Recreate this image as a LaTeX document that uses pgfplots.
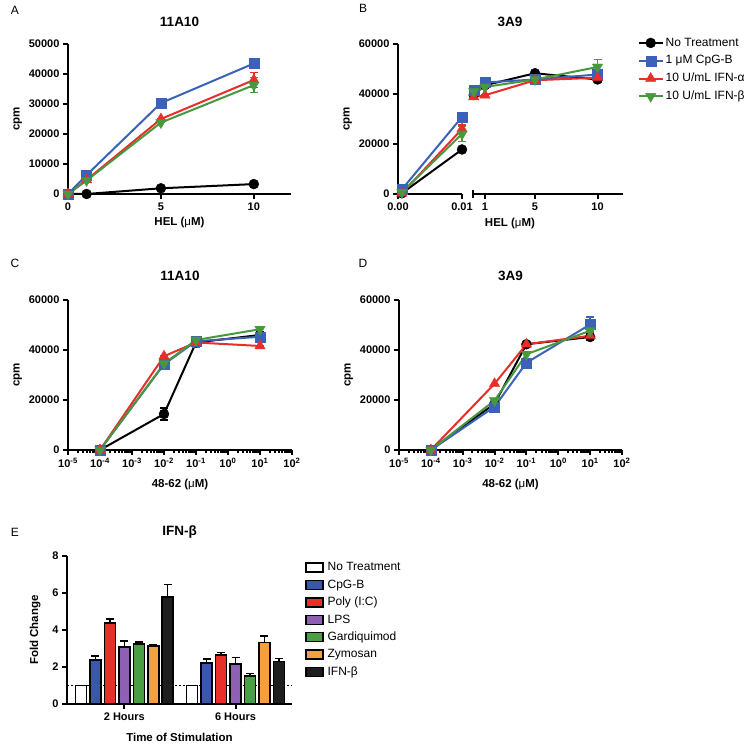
\documentclass[border=0pt]{standalone}
\usepackage{fontspec}
\setmainfont{Liberation Sans}
\usepackage{pgfplots}
\pgfplotsset{compat=1.18}

\definecolor{pblue}{RGB}{59,98,184}
\definecolor{pred}{RGB}{233,45,40}
\definecolor{pgreen}{RGB}{72,152,64}
\definecolor{ebl}{RGB}{57,88,170}
\definecolor{ered}{RGB}{232,48,40}
\definecolor{epur}{RGB}{142,96,180}
\definecolor{egrn}{RGB}{74,158,70}
\definecolor{eora}{RGB}{245,160,60}
\definecolor{eblk}{RGB}{30,30,30}

\newcommand\fTk{\fontsize{11}{13}\selectfont\bfseries}
\newcommand\fLb{\fontsize{11.5}{13}\selectfont\bfseries}
\newcommand\fTi{\fontsize{13.5}{15}\selectfont\bfseries}
\newcommand\fLg{\fontsize{12}{14}\selectfont}
\newcommand\mic{{\mdseries μ}}

\pgfplotsset{
  prism/.style={
    scale only axis, clip=false,
    axis x line=bottom, axis y line=left,
    axis line style={-, line width=2pt},
    every tick/.style={black, line width=2pt},
    tick align=outside, major tick length=5pt,
    tick label style={font=\fTk},
    label style={font=\fLb},
    title style={font=\fTi, at={(0.5,1)}, anchor=center},
    scaled ticks=false,
    /pgf/number format/1000 sep={},
    /pgf/number format/assume math mode=true,
    every axis plot/.append style={line width=2pt},
  },
  blk/.style={black, mark=*, mark size=5pt, mark options={solid, line width=0.4pt}},
  blu/.style={pblue, mark=square*, mark size=5pt, mark options={solid, line width=0.4pt}},
  rd/.style={pred, mark=triangle*, mark size=6pt, mark options={solid, line width=0.4pt}},
  gr/.style={pgreen, mark=triangle*, mark size=6pt, mark options={solid, rotate=180, line width=0.4pt}},
  lerr/.style={error bars/.cd, y dir=both, y explicit,
    error bar style={line width=1.5pt},
    error mark options={rotate=90, mark size=4pt, line width=1.5pt}},
  ebar/.style={error bars/.cd, y dir=plus, y explicit,
    error bar style={black, line width=1.5pt},
    error mark options={black, rotate=90, mark size=4pt, line width=1.5pt}},
}

\begin{document}
\begin{tikzpicture}
\path[use as bounding box] (0pt,0pt) rectangle (750pt,746pt);

% panel letters
\node[font=\fLg] at (15pt,736pt) {A};
\node[font=\fLg] at (363pt,738pt) {B};
\node[font=\fLg] at (15pt,483pt) {C};
\node[font=\fLg] at (363pt,483pt) {D};
\node[font=\fLg] at (15pt,214pt) {E};

% ---------- A ----------
\begin{axis}[prism, at={(68pt,552pt)}, anchor=south west,
  width=223pt, height=150pt,
  xmin=0, xmax=12, ymin=0, ymax=50000,
  xtick={0,5,10}, ytick={0,10000,20000,30000,40000,50000},
  title={11A10}, title style={yshift=16pt},
  xlabel={HEL (\mic M)}, ylabel={cpm}]
\addplot[blk] coordinates {(0,0) (1,0) (5,1900) (10,3300)};
\addplot[blu] coordinates {(0,0) (1,6300) (5,30300) (10,43500)};
\addplot[rd, lerr] coordinates {(0,0) +- (0,0) (1,4700) +- (0,0) (5,25000) +- (0,0) (10,38000) +- (0,2500)};
\addplot[gr, lerr] coordinates {(0,0) +- (0,0) (1,4500) +- (0,0) (5,23800) +- (0,0) (10,36300) +- (0,2500)};
\end{axis}

% ---------- B (left segment) ----------
\begin{axis}[prism, at={(398pt,552pt)}, anchor=south west,
  width=64pt, height=150pt,
  xmin=0, xmax=0.01, ymin=0, ymax=60000,
  xtick={0,0.01}, xticklabels={0.00,0.01},
  ytick={0,20000,40000,60000},
  ylabel={cpm}]
\addplot[blk] coordinates {(0.0006,300) (0.01,17800)};
\addplot[blu] coordinates {(0.0006,1800) (0.01,30800)};
\addplot[rd, lerr] coordinates {(0.0006,200) +- (0,0) (0.01,26000) +- (0,1500)};
\addplot[gr, lerr] coordinates {(0.0006,700) +- (0,0) (0.01,24000) +- (0,3000)};
\end{axis}

% ---------- B (right segment) ----------
\begin{axis}[prism, at={(472.5pt,552pt)}, anchor=south west,
  width=150pt, height=150pt, axis y line=none,
  xmin=0, xmax=12, ymin=0, ymax=60000,
  xtick={1,5,10},
  extra x ticks={0}, extra x tick labels={},
  extra x tick style={tick align=center, major tick length=8pt},
  title={3A9}, title style={at={(0.25,1)}, yshift=16pt},
  xlabel={HEL (\mic M)}, xlabel style={at={(ticklabel cs:0.25)}, yshift=8pt},
  legend style={at={(axis description cs:1.1,1.06)}, anchor=north west,
    draw=none, fill=none, font=\fLg, inner sep=0pt, row sep=2.3pt,
    cells={anchor=west},
    nodes={text height=9pt, text depth=2.5pt, inner sep=2pt}},
  legend image code/.code={\draw[mark repeat=2, mark phase=2, #1]
    plot coordinates {(0pt,0pt) (12pt,0pt) (24pt,0pt)};}]
\addplot[blk, lerr] coordinates {(0.1,39600) +- (0,0) (1,43500) +- (0,0) (5,48300) +- (0,0) (10,45800) +- (0,1000)};
\addplot[blu, lerr] coordinates {(0.1,41500) +- (0,0) (1,44600) +- (0,0) (5,45800) +- (0,0) (10,47800) +- (0,2000)};
\addplot[rd, lerr] coordinates {(0.1,38800) +- (0,0) (1,39500) +- (0,0) (5,45500) +- (0,0) (10,46500) +- (0,1500)};
\addplot[gr, lerr] coordinates {(0.1,41000) +- (0,0) (1,42800) +- (0,0) (5,45800) +- (0,0) (10,50800) +- (0,3000)};
\legend{No Treatment, 1 μM CpG-B, 10 U/mL IFN-α, 10 U/mL IFN-β}
\end{axis}

% ---------- C ----------
\begin{axis}[prism, at={(68pt,296pt)}, anchor=south west,
  width=224pt, height=150pt, xmode=log,
  xmin=1e-5, xmax=1e2, ymin=0, ymax=60000,
  xtick={1e-5,1e-4,1e-3,1e-2,1e-1,1,10,100},
  xticklabels={10\textsuperscript{-5},10\textsuperscript{-4},10\textsuperscript{-3},10\textsuperscript{-2},10\textsuperscript{-1},10\textsuperscript{0},10\textsuperscript{1},10\textsuperscript{2}},
  minor xtick={},
  ytick={0,20000,40000,60000},
  title={11A10}, title style={yshift=18pt},
  xlabel={48-62 (\mic M)}, xlabel style={yshift=-4pt}, ylabel={cpm}]
\addplot[blk, lerr] coordinates {(1e-4,0) +- (0,0) (1e-2,14400) +- (0,2400) (1e-1,43000) +- (0,2000) (10,46000) +- (0,0)};
\addplot[blu, lerr] coordinates {(1e-4,0) +- (0,0) (1e-2,34300) +- (0,0) (1e-1,43500) +- (0,0) (10,45300) +- (0,2000)};
\addplot[rd, lerr] coordinates {(1e-4,0) +- (0,0) (1e-2,37500) +- (0,0) (1e-1,43000) +- (0,2000) (10,41600) +- (0,0)};
\addplot[gr] coordinates {(1e-4,0) (1e-2,34500) (1e-1,44000) (10,48300)};
\end{axis}

% ---------- D ----------
\begin{axis}[prism, at={(399pt,296pt)}, anchor=south west,
  width=223pt, height=150pt, xmode=log,
  xmin=1e-5, xmax=1e2, ymin=0, ymax=60000,
  xtick={1e-5,1e-4,1e-3,1e-2,1e-1,1,10,100},
  xticklabels={10\textsuperscript{-5},10\textsuperscript{-4},10\textsuperscript{-3},10\textsuperscript{-2},10\textsuperscript{-1},10\textsuperscript{0},10\textsuperscript{1},10\textsuperscript{2}},
  minor xtick={},
  ytick={0,20000,40000,60000},
  title={3A9}, title style={yshift=18pt},
  xlabel={48-62 (\mic M)}, xlabel style={yshift=-4pt}, ylabel={cpm}]
\addplot[blk, lerr] coordinates {(1e-4,0) +- (0,0) (1e-2,18500) +- (0,0) (1e-1,42300) +- (0,0) (10,45200) +- (0,1500)};
\addplot[blu, lerr] coordinates {(1e-4,0) +- (0,0) (1e-2,17300) +- (0,0) (1e-1,34900) +- (0,0) (10,50200) +- (0,3000)};
\addplot[rd] coordinates {(1e-4,0) (1e-2,26500) (1e-1,42300) (10,45700)};
\addplot[gr] coordinates {(1e-4,0) (1e-2,19800) (1e-1,38300) (10,47700)};
\end{axis}

% ---------- E ----------
\begin{axis}[prism, at={(67pt,42pt)}, anchor=south west,
  width=225pt, height=148pt,
  xmin=-0.516, xmax=1.508, ymin=0, ymax=8,
  xtick={0,1}, xticklabels={2 Hours, 6 Hours},
  ytick={0,2,4,6,8},
  extra y ticks={1}, extra y tick labels={},
  extra y tick style={grid=major, major tick length=0pt,
    major grid style={black, line width=1pt, dash pattern=on 2pt off 2pt}},
  ybar=3.45pt, bar width=11pt,
  every axis plot/.append style={draw=black, line width=1.6pt},
  title={IFN-β}, title style={yshift=18pt},
  xlabel={Time of Stimulation}, xlabel style={yshift=-6pt}, ylabel={Fold Change},
  legend style={at={(axis description cs:1.058,0.975)}, anchor=north west,
    draw=none, fill=none, font=\fLg, inner sep=0pt, row sep=1.9pt,
    cells={anchor=west},
    nodes={text height=9pt, text depth=2.5pt, inner ysep=2pt, inner xsep=4pt}},
  legend image code/.code={\draw[#1, line width=1.4pt] (0pt,-4.5pt) rectangle (17pt,4.5pt);}]
\addplot[fill=white] coordinates {(0,1) (1,1)};
\addplot[fill=ebl, ebar] coordinates {(0,2.37) +- (0,0.23) (1,2.21) +- (0,0.22)};
\addplot[fill=ered, ebar] coordinates {(0,4.37) +- (0,0.22) (1,2.64) +- (0,0.15)};
\addplot[fill=epur, ebar] coordinates {(0,3.08) +- (0,0.32) (1,2.16) +- (0,0.34)};
\addplot[fill=egrn, ebar] coordinates {(0,3.24) +- (0,0.12) (1,1.51) +- (0,0.13)};
\addplot[fill=eora, ebar] coordinates {(0,3.13) +- (0,0.09) (1,3.33) +- (0,0.34)};
\addplot[fill=eblk, ebar] coordinates {(0,5.79) +- (0,0.68) (1,2.30) +- (0,0.16)};
\legend{No Treatment, CpG-B, Poly (I:C), LPS, Gardiquimod, Zymosan, IFN-β}
\end{axis}
\end{tikzpicture}
\end{document}
